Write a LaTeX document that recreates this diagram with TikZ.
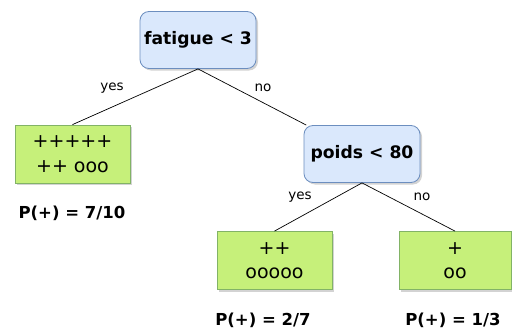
\documentclass[tikz,border=0pt]{standalone}
\usepackage{fontspec}
\setmainfont{DejaVu Sans}
\usetikzlibrary{shadows}
\definecolor{testfill}{HTML}{DAE8FC}
\definecolor{testline}{HTML}{6C8EBF}
\definecolor{leaffill}{HTML}{C6F07A}
\definecolor{leafline}{HTML}{82B366}

\begin{document}
\begin{tikzpicture}[x=1pt, y=-1pt,
  test/.style={draw=testline, fill=testfill, rounded corners=9pt, thick,
    minimum width=116pt, minimum height=57pt, inner sep=0pt,
    font=\fontsize{17.2}{20}\selectfont\bfseries,
    drop shadow={shadow xshift=2pt, shadow yshift=-2pt, opacity=0.35, fill=gray}},
  leaf/.style={draw=leafline, fill=leaffill, thick,
    minimum width=115pt, minimum height=58pt, inner sep=0pt, align=center,
    font=\fontsize{19}{24.5}\selectfont,
    drop shadow={shadow xshift=2pt, shadow yshift=-2pt, opacity=0.35, fill=gray}},
  branch/.style={line width=0.7pt},
  answer/.style={font=\fontsize{13.5}{16}\selectfont},
  prob/.style={font=\fontsize{16.5}{20}\selectfont\bfseries}]
  \useasboundingbox (0,0) rectangle (512,332);

  % decision nodes
  \node[test] (fatigue) at (198,40) {fatigue < 3};
  \node[test] (poids) at (362,154) {poids < 80};

  % leaves
  \node[leaf] (leafA) at (72.5,154) {+++++\\++ ooo};
  \node[leaf] (leafB) at (274.5,260.5) {++\\ooooo};
  \node[leaf, minimum width=112pt] (leafC) at (455,260.5) {+\\oo};

  % branches
  \draw[branch] (fatigue.south) -- (leafA.north);
  \draw[branch] (fatigue.south) -- (poids);
  \draw[branch] (poids.south) -- (leafB.north);
  \draw[branch] (poids.south) -- (leafC.north);

  \node[answer] (yesA) at (112,88) {yes};
  \node[answer] (noA) at (263,88) {no};
  \node[answer] (yesB) at (300,197) {yes};
  \node[answer] (noB) at (422,197) {no};

  % probabilities
  \node[prob] (probA) at (72,213) {P(+) = 7/10};
  \node[prob] (probB) at (263,320) {P(+) = 2/7};
  \node[prob] (probC) at (453,320) {P(+) = 1/3};
\end{tikzpicture}
\end{document}
